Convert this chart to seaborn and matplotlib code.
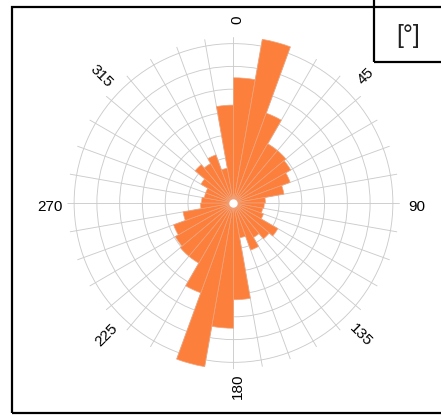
import matplotlib
matplotlib.use("Agg")
import matplotlib.pyplot as plt
import matplotlib.patches as mpatches
import matplotlib.transforms as mtransforms
import numpy as np
import seaborn as sns

# rose diagram, 10 degree bins (start angle of each bin)
bin_start = list(range(0, 360, 10))
bin_count = [5.5, 7.3, 4.2, 3.0, 3.0, 2.9, 2.65, 2.25, 1.4,
             1.35, 1.3, 1.4, 2.25, 2.05, 1.75, 2.2, 1.55, 4.25,
             5.5, 7.3, 4.2, 3.05, 3.05, 2.95, 2.8, 2.25, 1.45,
             1.4, 1.3, 1.3, 1.65, 2.2, 2.0, 2.25, 1.55, 4.3]
dir_labels = [0, 45, 90, 135, 180, 225, 270, 315]
unit_label = "[°]"

BAR_COLOR = "#fd7f3c"
W, H = 441, 415

sns.set_theme(style="white")
plt.rcParams['font.family'] = ['Liberation Sans', 'DejaVu Sans']

fig = plt.figure(figsize=(W / 100, H / 100), dpi=100)
cx, cy, rad = 233.5, 203.0, 166.2
ax = fig.add_axes([(cx - rad) / W, (H - cy - rad) / H, 2 * rad / W, 2 * rad / H],
                  projection='polar')
ax.set_theta_zero_location('N')
ax.set_theta_direction(-1)

theta = np.radians(np.array(bin_start) + 5)
ax.bar(theta, bin_count, width=np.radians(10), color=BAR_COLOR,
       edgecolor='#f0a47c', linewidth=0.5, zorder=3, clip_on=False)
ax.plot([0], [0], 'o', color='white', markersize=5, zorder=5)

ax.set_ylim(0, 7.3)
ax.set_yticks(range(1, 8))
ax.set_yticklabels([])
ax.set_xticks(np.radians(np.arange(0, 360, 10)))
ax.set_xticklabels([])
ax.grid(True, color='#cccccc', linewidth=0.65)
ax.spines['polar'].set_visible(False)
ax.set_facecolor('white')

# direction labels, rotated along the circle
for d in dir_labels:
    rot = 90 - d
    while rot <= -90:
        rot += 180
    while rot > 90:
        rot -= 180
    r = np.radians(rot)
    off = mtransforms.offset_copy(ax.transData, fig=fig,
                                  x=4 * np.sin(r), y=-4 * np.cos(r), units='dots')
    ax.text(np.radians(d), 8.05, str(d), rotation=rot, rotation_mode='anchor',
            ha='center', va='center', fontsize=11, color='black',
            transform=off, clip_on=False)

# outer frame and unit box
fig.patches.append(mpatches.Rectangle((11.5 / W, 2 / H), 1.2, (413 - 7.5) / H,
                                      transform=fig.transFigure, fill=False,
                                      edgecolor='black', linewidth=1.6))
fig.patches.append(mpatches.Rectangle((374 / W, (H - 61.7) / H), 0.3, 0.3,
                                      transform=fig.transFigure, fill=False,
                                      edgecolor='black', linewidth=1.6))
fig.text(408 / W, 1 - 36.5 / H, unit_label, fontsize=18, color='#222222',
         ha='center', va='center')

fig.savefig('out.png', dpi=100)
